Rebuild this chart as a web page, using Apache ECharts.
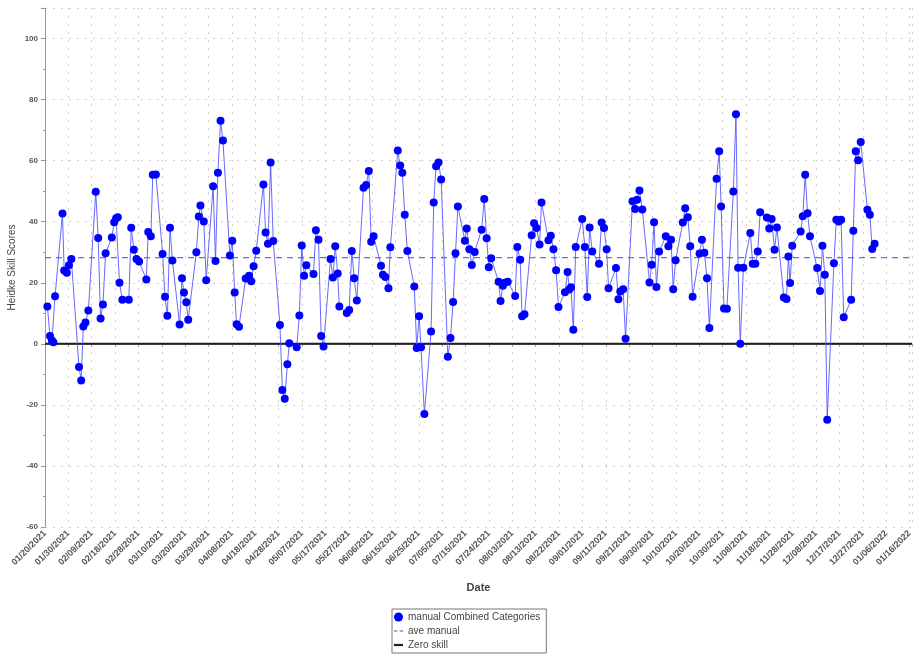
<!DOCTYPE html>
<html>
<head>
<meta charset="utf-8">
<script src="https://cdn.jsdelivr.net/npm/echarts@6/dist/echarts.min.js"></script>
<style>
html, body { margin: 0; padding: 0; background: #fff; }
#main { width: 914px; height: 655px; }
</style>
</head>
<body>
<div id="main"></div>
<script>
// tick labels on the date axis (evenly spaced between first and last)
const tickLabels = ['01/20/2021', '01/30/2021', '02/09/2021', '02/18/2021', '02/28/2021', '03/10/2021', '03/20/2021', '03/29/2021',
  '04/08/2021', '04/18/2021', '04/28/2021', '05/07/2021', '05/17/2021', '05/27/2021', '06/06/2021', '06/15/2021', '06/25/2021',
  '07/05/2021', '07/15/2021', '07/24/2021', '08/03/2021', '08/13/2021', '08/22/2021', '09/01/2021', '09/11/2021', '09/21/2021',
  '09/30/2021', '10/10/2021', '10/20/2021', '10/30/2021', '11/08/2021', '11/18/2021', '11/28/2021', '12/08/2021', '12/17/2021',
  '12/27/2021', '01/06/2022', '01/16/2022']

// days after 01/20/2021
const days = [1.0, 2.1, 2.9, 3.5, 4.2, 7.3, 8.0, 9.1, 10.0, 11.0, 14.2, 15.1, 16.0, 16.9, 18.1,
  21.2, 22.2, 23.2, 24.2, 25.3, 27.9, 28.9, 29.7, 30.4, 31.1, 32.3, 35.0, 36.0, 37.1, 38.2, 39.3,
  42.3, 43.1, 44.2, 45.0, 46.3, 49.1, 50.1, 51.1, 52.2, 53.2, 56.2, 57.2, 58.0, 59.0, 59.8,
  63.2, 64.2, 64.9, 66.3, 67.3, 70.2, 71.2, 72.2, 73.3, 74.3, 77.2, 78.2, 79.2, 80.0, 81.0,
  83.8, 85.2, 86.1, 87.1, 88.2, 91.2, 92.1, 93.1, 94.2, 95.3, 98.1, 99.1, 100.1, 101.2, 102.0,
  105.1, 106.2, 107.2, 108.2, 109.1, 112.1, 113.1, 114.2, 115.3, 116.3, 119.2, 120.2, 121.2, 122.2, 122.9,
  126.0, 127.0, 128.1, 129.1, 130.2, 133.0, 134.1, 135.2, 136.2, 137.2, 140.3, 141.1, 142.1, 143.4, 144.2,
  147.3, 148.3, 149.2, 150.2, 151.3, 154.2, 155.2, 156.2, 157.0, 158.4, 161.2, 162.3, 163.3, 164.3, 165.4,
  168.2, 169.3, 170.4, 171.4, 172.4, 175.3, 176.1, 177.2, 178.2, 179.4, 182.3, 183.4, 184.4, 185.3, 186.3,
  189.4, 190.2, 191.2, 192.0, 193.2, 196.3, 197.2, 198.4, 199.2, 200.2, 203.2, 204.2, 205.2, 206.5, 207.3,
  210.2, 211.2, 212.3, 213.4, 214.4, 217.1, 218.2, 218.9, 219.6, 220.6, 221.6, 224.3, 225.4, 226.4, 227.4, 228.5,
  231.3, 232.4, 233.4, 234.5, 235.3, 238.4, 239.4, 240.2, 241.4, 242.4, 245.3, 246.4, 247.2, 248.2, 249.4,
  252.4, 253.3, 254.3, 255.3, 256.4, 259.2, 260.3, 261.4, 262.3, 263.3, 266.3, 267.3, 268.4, 269.4, 270.4,
  273.3, 274.3, 275.3, 276.4, 277.4, 280.4, 281.5, 282.3, 283.5, 284.7, 287.4, 288.5, 289.4, 290.3, 291.6,
  294.5, 295.5, 296.6, 297.6, 298.6, 301.4, 302.4, 303.4, 304.6, 305.6, 308.5, 309.6, 310.4, 311.1, 312.0,
  315.5, 316.4, 317.4, 318.4, 319.4, 322.4, 323.6, 324.6, 325.6, 326.6, 329.4, 330.4, 331.4, 332.4, 333.5,
  336.6, 337.5, 338.5, 339.5, 340.6, 343.4, 344.4, 345.4, 346.4]

// Heidke skill score for each day
const scores = [12.2, 2.6, 1.1, 0.5, 15.6, 42.7, 24.0, 23.3, 25.7, 27.8, -7.6, -12.0, 5.7, 7.0, 10.9,
  49.8, 34.7, 8.3, 12.9, 29.7, 34.8, 39.8, 41.1, 41.5, 20.0, 14.4, 14.4, 38.0, 30.8, 27.8, 27.0,
  21.1, 36.6, 35.2, 55.4, 55.5, 29.4, 15.4, 9.2, 38.0, 27.3, 6.3, 21.5, 16.8, 13.6, 7.9,
  30.0, 41.7, 45.3, 40.1, 20.8, 51.6, 27.1, 56.0, 73.1, 66.6, 28.9, 33.8, 16.8, 6.4, 5.6,
  21.4, 22.3, 20.5, 25.4, 30.5, 52.2, 36.5, 32.8, 59.4, 33.7, 6.2, -15.1, -18.0, -6.7, 0.2,
  -1.1, 9.3, 32.2, 22.3, 25.7, 22.9, 37.2, 34.1, 2.6, -0.9, 27.8, 21.7, 32.0, 23.0, 12.2,
  10.1, 11.1, 30.4, 21.5, 14.2, 51.1, 52.0, 56.6, 33.4, 35.2, 25.6, 22.6, 21.9, 18.2, 31.6,
  63.3, 58.4, 56.0, 42.3, 30.4, 18.8, -1.4, 9.0, -1.1, -23.0, 4.0, 46.3, 58.2, 59.4, 53.8,
  -4.2, 1.9, 13.7, 29.7, 45.0, 33.8, 37.8, 31.0, 25.8, 30.1, 37.4, 47.4, 34.6, 25.1, 28.0,
  20.3, 14.0, 19.0, 20.0, 20.3, 15.7, 31.7, 27.5, 9.0, 9.7, 35.6, 39.5, 37.9, 32.5, 46.3,
  33.9, 35.4, 31.0, 24.1, 12.1, 16.9, 23.5, 17.8, 18.5, 4.6, 31.7, 40.9, 31.7, 15.3, 38.1, 30.2,
  26.2, 39.7, 37.9, 31.0, 18.2, 24.8, 14.6, 17.1, 17.9, 1.7, 46.7, 44.2, 47.2, 50.2, 44.0,
  20.1, 25.9, 39.8, 18.6, 30.2, 35.2, 32.0, 34.1, 17.9, 27.4, 39.7, 44.4, 41.5, 32.0, 15.4,
  29.6, 34.1, 29.8, 21.5, 5.2, 54.1, 63.1, 45.0, 11.6, 11.5, 49.9, 75.2, 24.9, 0.0, 24.9,
  36.3, 26.2, 26.2, 30.2, 43.1, 41.4, 37.8, 40.9, 30.8, 38.1, 15.2, 14.7, 28.6, 19.9, 32.1,
  36.8, 41.8, 55.4, 42.8, 35.2, 24.8, 17.3, 32.1, 22.6, -24.9, 26.4, 40.6, 40.1, 40.6, 8.7,
  14.4, 37.0, 63.1, 60.1, 66.1, 43.9, 42.3, 31.1, 32.8]

const aveManual = 28.2
const zeroSkill = 0
const dayMin = 0
const dayMax = 362
const tickStep = 361 / 37

const chart = echarts.init(document.getElementById('main'))
const gridLine = { show: true, lineStyle: { color: '#cfcfcf', type: [2, 6], width: 1 } }

const option = {
  animation: false,
  textStyle: { fontFamily: 'Liberation Sans' },
  grid: { left: 45, right: 2, top: 8, bottom: 128, outerBoundsMode: 'none' },
  legend: {
    orient: 'vertical',
    left: 392,
    top: 609,
    itemWidth: 9,
    itemHeight: 9,
    itemGap: 4,
    padding: [3, 6, 3, 2],
    borderColor: '#777',
    borderWidth: 1,
    borderRadius: 0,
    textStyle: { fontSize: 10, color: '#444' },
    data: [
      { name: 'manual Combined Categories', icon: 'circle' },
      { name: 'ave manual', icon: 'path://M0,0h3v1h-3zM5,0h3v1h-3z' },
      { name: 'Zero skill', icon: 'path://M0,0h8v2h-8z' }
    ]
  },
  xAxis: {
    type: 'value',
    min: dayMin,
    max: dayMax,
    interval: tickStep,
    name: 'Date',
    nameLocation: 'middle',
    nameGap: 55,
    nameTextStyle: { fontSize: 11, fontWeight: 'bold', color: '#444' },
    axisLine: { show: true, lineStyle: { color: '#999' } },
    axisTick: { show: true, length: 3, lineStyle: { color: '#999' } },
    axisLabel: {
      rotate: 45,
      fontSize: 9,
      fontWeight: 'bold',
      color: '#555',
      margin: 5,
      formatter: function (v) {
        const i = Math.round(v / tickStep)
        return (Math.abs(v - i * tickStep) < 0.05 && i < tickLabels.length) ? tickLabels[i] : ''
      }
    },
    splitLine: gridLine
  },
  yAxis: {
    type: 'value',
    min: -60,
    max: 110,
    interval: 20,
    name: 'Heidke Skill Scores',
    nameLocation: 'middle',
    nameGap: 28,
    nameMoveOverlap: false,
    nameTextStyle: { fontSize: 10, color: '#444' },
    axisLine: { show: true, lineStyle: { color: '#999' } },
    axisTick: { show: true, length: 4, lineStyle: { color: '#999' } },
    minorTick: { show: true, splitNumber: 2, length: 2, lineStyle: { color: '#999' } },
    axisLabel: {
      fontSize: 8,
      fontWeight: 'bold',
      color: '#555',
      margin: 7,
      formatter: function (v) {
        return (v % 20 === 0 && v <= 100) ? v : ''
      }
    },
    splitLine: gridLine
  },
  series: [
    {
      name: 'Zero skill',
      type: 'line',
      symbol: 'none',
      lineStyle: { color: '#222', width: 2 },
      itemStyle: { color: '#222' },
      data: [[dayMin, zeroSkill], [dayMax, zeroSkill]]
    },
    {
      name: 'ave manual',
      type: 'line',
      symbol: 'none',
      lineStyle: { color: '#4a4ad0', width: 1, type: [6, 5] },
      itemStyle: { color: '#4a4ad0' },
      data: [[dayMin, aveManual], [dayMax, aveManual]]
    },
    {
      name: 'manual Combined Categories',
      type: 'line',
      symbol: 'circle',
      symbolSize: 8,
      showAllSymbol: true,
      itemStyle: { color: '#0000ff' },
      lineStyle: { color: '#4d4dff', width: 1, opacity: 0.85 },
      data: days.map((d, i) => [d, scores[i]])
    }
  ]
}

chart.setOption(option)
</script>
</body>
</html>
